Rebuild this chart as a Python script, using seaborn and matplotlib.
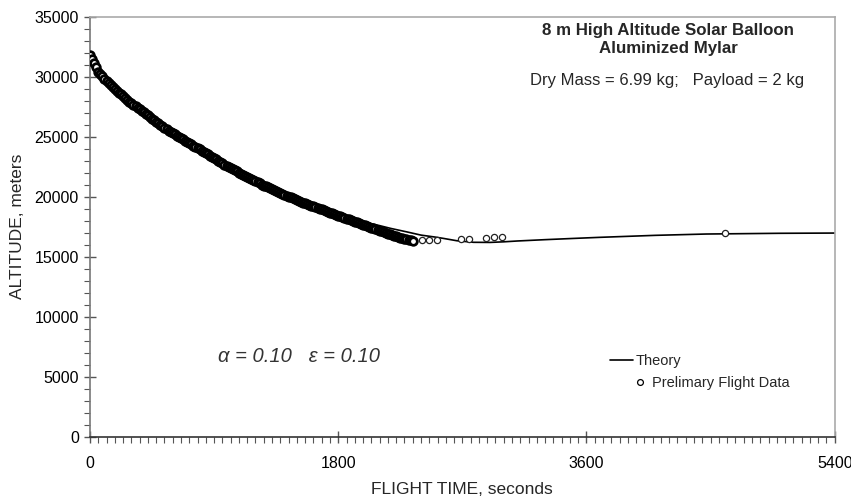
import numpy as np
import pandas as pd
import matplotlib
matplotlib.use("Agg")
import matplotlib.pyplot as plt
import matplotlib.ticker as mticker
from matplotlib.lines import Line2D
import seaborn as sns

# ── Data ──────────────────────────────────────────────────────────────────────
# Theory curve (time s, altitude m)
theory_time = [0, 30, 60, 120, 200, 300, 400, 500, 600, 700, 800, 900, 1000,
               1100, 1200, 1300, 1400, 1500, 1600, 1700, 1800, 1900, 1960, 2000,
               2100, 2180, 2300, 2400, 2500, 2560, 2660, 2780, 2900, 3000, 3100,
               3300, 3500, 3700, 4100, 4470, 5000, 5400]
theory_alt = [31800, 31100, 30400, 29600, 28700, 27700, 26900, 26150, 25330,
              24620, 23930, 23230, 22560, 21910, 21300, 20740, 20200, 19700,
              19230, 18800, 18430, 18170, 17975, 17860, 17590, 17360, 17060,
              16800, 16640, 16530, 16330, 16200, 16190, 16240, 16310, 16420,
              16520, 16615, 16780, 16890, 16950, 16970]

# Preliminary flight data: dense descent band
descent_time = [0, 15, 30, 45, 60, 75, 90, 105, 120, 135, 150, 165, 180, 195,
                210, 225, 240, 255, 270, 285, 300, 315, 330, 345, 360, 375, 390,
                405, 420, 435, 450, 465, 480, 495, 510, 525, 540, 555, 570, 585,
                600, 615, 630, 645, 660, 675, 690, 705, 720, 735, 750, 765, 780,
                795, 810, 825, 840, 855, 870, 885, 900, 915, 930, 945, 960, 975,
                990, 1005, 1020, 1035, 1050, 1065, 1080, 1095, 1110, 1125, 1140,
                1155, 1170, 1185, 1200, 1215, 1230, 1245, 1260, 1275, 1290, 1305,
                1320, 1335, 1350, 1365, 1380, 1395, 1410, 1425, 1440, 1455, 1470,
                1485, 1500, 1515, 1530, 1545, 1560, 1575, 1590, 1605, 1620, 1635,
                1650, 1665, 1680, 1695, 1710, 1725, 1740, 1755, 1770, 1785, 1800,
                1815, 1830, 1845, 1860, 1875, 1890, 1905, 1920, 1935, 1950, 1965,
                1980, 1995, 2010, 2025, 2040, 2055, 2070, 2085, 2100, 2115, 2130,
                2145, 2160, 2175, 2190, 2205, 2220, 2235, 2250, 2265, 2280, 2295,
                2310, 2325, 2340]
descent_alt = [31810, 31470, 31120, 30780, 30430, 30230, 30040, 29840, 29650,
               29475, 29310, 29150, 28995, 28840, 28680, 28520, 28365, 28210,
               28050, 27910, 27780, 27650, 27525, 27400, 27270, 27140, 27020,
               26900, 26770, 26640, 26515, 26390, 26265, 26140, 26010, 25880,
               25760, 25640, 25510, 25400, 25300, 25200, 25090, 24980, 24880,
               24780, 24670, 24560, 24460, 24360, 24250, 24140, 24040, 23940,
               23830, 23720, 23620, 23520, 23410, 23300, 23200, 23100, 22990,
               22880, 22780, 22680, 22570, 22470, 22380, 22290, 22200, 22110,
               22015, 21920, 21830, 21740, 21650, 21560, 21465, 21370, 21280,
               21190, 21100, 21010, 20930, 20860, 20780, 20700, 20625, 20550,
               20470, 20390, 20320, 20240, 20165, 20090, 20015, 19940, 19860,
               19780, 19710, 19650, 19580, 19510, 19450, 19390, 19320, 19250,
               19190, 19130, 19060, 19000, 18935, 18870, 18805, 18740, 18675,
               18610, 18545, 18480, 18420, 18360, 18290, 18230, 18165, 18100,
               18040, 17980, 17910, 17850, 17785, 17720, 17660, 17600, 17535,
               17470, 17410, 17350, 17280, 17220, 17155, 17100, 17040, 16980,
               16925, 16870, 16810, 16750, 16700, 16640, 16580, 16540, 16490,
               16440, 16400, 16360, 16320]
# Isolated points after the minimum
float_time = [2407, 2455, 2516, 2692, 2750, 2872, 2932, 2990, 4608]
float_alt = [16390, 16390, 16390, 16450, 16450, 16560, 16615, 16615, 16950]

x_ticks = [0, 1800, 3600, 5400]
y_ticks = [0, 5000, 10000, 15000, 20000, 25000, 30000, 35000]

theory = pd.DataFrame({"time": theory_time, "alt": theory_alt})
descent = pd.DataFrame({"time": descent_time, "alt": descent_alt})
floating = pd.DataFrame({"time": float_time, "alt": float_alt})

# ── Style ─────────────────────────────────────────────────────────────────────
sns.set_theme(style="white")
plt.rcParams["font.family"] = ["Liberation Sans", "DejaVu Sans"]

W, H = 851, 498
fig = plt.figure(figsize=(W / 100, H / 100), dpi=100)
ax = fig.add_axes([90 / W, (H - 436.7) / H, (834.7 - 90) / W, (436.7 - 16.7) / H])

sns.lineplot(data=theory, x="time", y="alt", color="black", linewidth=1.2,
             sort=False, estimator=None, ax=ax, zorder=2)
# dense band: heavy rings so overlapping markers read as a dark band
sns.scatterplot(data=descent, x="time", y="alt", marker="o", s=30,
                facecolor="white", edgecolor="black", linewidth=2.0,
                ax=ax, zorder=3)
sns.scatterplot(data=floating, x="time", y="alt", marker="o", s=20,
                facecolor="white", edgecolor="#222222", linewidth=0.9,
                ax=ax, zorder=3)

ax.set_xlim(0, 5400)
ax.set_ylim(0, 35000)
ax.set_xticks(x_ticks)
ax.set_yticks(y_ticks)
ax.xaxis.set_minor_locator(mticker.MultipleLocator(60))
ax.yaxis.set_minor_locator(mticker.MultipleLocator(1000))
ax.tick_params(axis="both", which="major", direction="inout", length=8,
               width=1, color="#555555", labelsize=11.5, colors="black")
ax.tick_params(axis="x", which="major", pad=10)
ax.tick_params(axis="y", which="major", pad=4)
ax.tick_params(axis="both", which="minor", direction="out", length=4,
               width=0.8, color="#555555")
ax.tick_params(bottom=True, left=True, which="both")
for lab in ax.get_xticklabels() + ax.get_yticklabels():
    lab.set_color("black")

for side in ["top", "right"]:
    ax.spines[side].set_color("#aaaaaa")
    ax.spines[side].set_linewidth(1.2)
ax.spines["left"].set_color("#777777")
ax.spines["bottom"].set_color("#333333")
for side in ["left", "bottom"]:
    ax.spines[side].set_linewidth(1.2)

ax.set_xlabel("FLIGHT TIME, seconds", fontsize=12.5, labelpad=8)
ax.set_ylabel("ALTITUDE, meters", fontsize=12.5, labelpad=7)

# ── Annotations ───────────────────────────────────────────────────────────────
fig.text(668 / W, 1 - 30 / H, "8 m High Altitude Solar Balloon", ha="center",
         va="center", fontsize=12.2, fontweight="bold")
fig.text(668 / W, 1 - 48 / H, "Aluminized Mylar", ha="center", va="center",
         fontsize=12.2, fontweight="bold")
fig.text(667 / W, 1 - 80 / H, "Dry Mass = 6.99 kg;   Payload = 2 kg",
         ha="center", va="center", fontsize=12)
fig.text(218 / W, 1 - 356 / H, "α = 0.10   ε = 0.10", ha="left", va="center",
         fontsize=14.5, style="italic", color="#333333")

# legend: line entry and marker entry, marker indented like the original
theory_handle = Line2D([], [], color="black", linewidth=1.2)
data_handle = Line2D([], [], linestyle="none", marker="o", markersize=4.2,
                     markerfacecolor="white", markeredgecolor="black",
                     markeredgewidth=0.9)
leg1 = ax.legend(handles=[theory_handle], labels=["Theory"], loc="center left",
                 bbox_to_anchor=((610 - 90) / 745, (436.7 - 361) / 420),
                 frameon=False, fontsize=10.5, handlelength=1.6,
                 handletextpad=0.2, borderaxespad=0, borderpad=0)
ax.add_artist(leg1)
ax.legend(handles=[data_handle], labels=["Prelimary Flight Data"],
          loc="center left",
          bbox_to_anchor=((636 - 90) / 745, (436.7 - 383) / 420),
          frameon=False, fontsize=10.5, handlelength=0.6,
          handletextpad=0.5, borderaxespad=0, borderpad=0)

fig.savefig("out.png", dpi=100)
